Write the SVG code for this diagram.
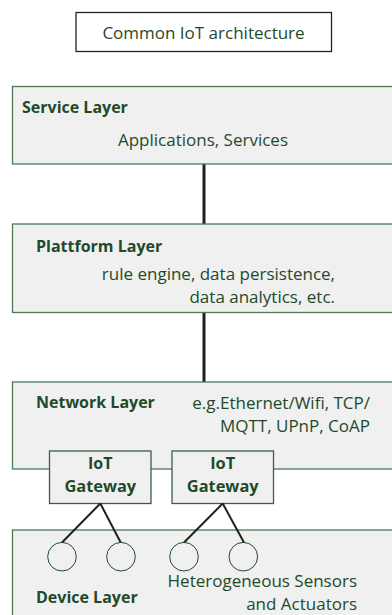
<svg xmlns="http://www.w3.org/2000/svg" width="392" height="615" viewBox="0 0 392 615">
<style>
text{font-family:"Open Sans","Liberation Sans",sans-serif;fill:#1e4a2a;font-size:17px}
.b{font-weight:bold;font-size:16px}
.layer{fill:#f0f0f0;stroke:#4a7a56;stroke-width:1.3}
.gw{fill:#f0f0f0;stroke:#3a5f44;stroke-width:1.3}
.dev{fill:none;stroke:#1e4a2a;stroke-width:1}
.conn{stroke:#231f20;stroke-width:3;fill:none}
.thin{stroke:#231f20;stroke-width:2;fill:none}
</style>
<g id="title">
<rect x="76" y="12.5" width="255.5" height="39" fill="#fff" stroke="#222" stroke-width="1.3"/>
<text x="203.5" y="39" text-anchor="middle" font-size="20.5">Common IoT architecture</text>
</g>
<g id="connectors">
<line class="conn" x1="204" y1="164" x2="204" y2="224"/>
<line class="conn" x1="204" y1="312" x2="204" y2="382"/>
</g>
<g id="service">
<rect class="layer" x="12.5" y="86.5" width="390" height="77.5"/>
<text class="b" x="22" y="113">Service Layer</text>
<text x="203" y="146" text-anchor="middle">Applications, Services</text>
</g>
<g id="platform">
<rect class="layer" x="12.5" y="224" width="390" height="88.5"/>
<text class="b" x="36" y="252">Plattform Layer</text>
<text x="335" y="280" text-anchor="end">rule engine, data persistence,</text>
<text x="335" y="303" text-anchor="end">data analytics, etc.</text>
</g>
<g id="network">
<rect class="layer" x="12.5" y="382" width="390" height="87"/>
<text class="b" x="36" y="408">Network Layer</text>
<text x="370" y="409" text-anchor="end">e.g.Ethernet/Wifi, TCP/</text>
<text x="370" y="432" text-anchor="end">MQTT, UPnP, CoAP</text>
</g>
<g id="device">
<rect class="layer" x="12.5" y="530" width="390" height="100"/>
<text class="b" x="36" y="603">Device Layer</text>
<text x="357" y="587" text-anchor="end">Heterogeneous Sensors</text>
<text x="357" y="610" text-anchor="end">and Actuators</text>
</g>
<g id="gateway1">
<rect class="gw" x="49.5" y="451" width="101.5" height="52.5"/>
<text class="b" x="100.3" y="469" text-anchor="middle" font-size="16.4">IoT</text>
<text class="b" x="100.3" y="492" text-anchor="middle" style="font-size:16.4px">Gateway</text>
</g>
<g id="gateway2">
<rect class="gw" x="172" y="451" width="101.5" height="52.5"/>
<text class="b" x="222.7" y="469" text-anchor="middle" style="font-size:16.4px">IoT</text>
<text class="b" x="222.7" y="492" text-anchor="middle" style="font-size:16.4px">Gateway</text>
</g>
<g id="device-links">
<line class="thin" x1="100.3" y1="503.5" x2="62" y2="542.5"/>
<line class="thin" x1="100.3" y1="503.5" x2="120.7" y2="542.5"/>
<line class="thin" x1="222.7" y1="503.5" x2="184" y2="542.5"/>
<line class="thin" x1="222.7" y1="503.5" x2="244" y2="542.5"/>
</g>
<g id="sensor1"><circle class="dev" cx="62" cy="556.7" r="14.3"/></g>
<g id="sensor2"><circle class="dev" cx="121" cy="556.7" r="14.3"/></g>
<g id="sensor3"><circle class="dev" cx="184" cy="556.7" r="14.3"/></g>
<g id="sensor4"><circle class="dev" cx="243.3" cy="556.7" r="14.3"/></g>
</svg>
